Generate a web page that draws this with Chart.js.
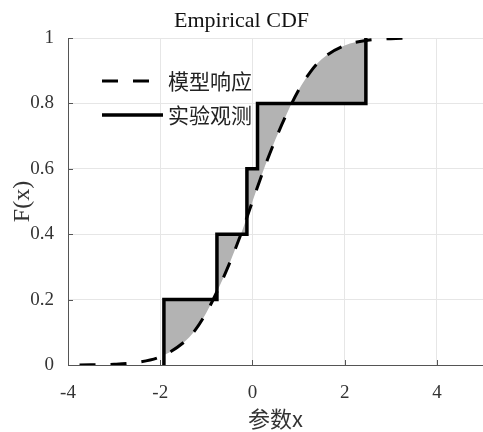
<!DOCTYPE html>
<html>
<head>
<meta charset="utf-8">
<script src="https://cdn.jsdelivr.net/npm/chart.js@4.4.1/dist/chart.umd.min.js"></script>
<style>
  html, body { margin: 0; padding: 0; background: #fff; }
  #wrap { width: 483px; height: 432px; }
</style>
</head>
<body>
<div id="wrap"><canvas id="cdf"></canvas></div>
<script>
// sorted experimental samples and their empirical CDF levels
const sampleX = [-1.92, -0.77, -0.12, 0.11, 2.46];
const ecdfY = [0.2, 0.4, 0.6, 0.8, 1.0];

// model CDF
const modelX = [-3.75, -3, -2.5, -2, -1.5, -1.25, -1, -0.75, -0.5, -0.25, 0, 0.25, 0.5, 0.75, 1, 1.25, 1.5, 2, 2.5, 3, 3.45];
const modelY = [0, 0.002, 0.008, 0.025, 0.068, 0.105, 0.16, 0.23, 0.31, 0.40, 0.50, 0.60, 0.69, 0.77, 0.84, 0.895, 0.935, 0.977, 0.993, 0.998, 1.0];

const xTicks = [-4, -2, 0, 2, 4];
const yTicks = [0, 0.2, 0.4, 0.6, 0.8, 1];
const seriesNames = ["模型响应", "实验观测"];

const SERIF = "'Liberation Serif', 'Times New Roman', serif";
const CJK = "'Noto Sans CJK SC', 'Noto Sans', sans-serif";

// MATLAB-style inward tick marks
const innerTicks = {
    id: "innerTicks",
    afterDatasetsDraw(chart) {
        const { ctx, chartArea: a, scales } = chart;
        ctx.save();
        ctx.strokeStyle = "#555";
        ctx.lineWidth = 1;
        ctx.beginPath();
        xTicks.forEach((v) => {
            const px = Math.round(scales.x.getPixelForValue(v)) + 0.5;
            ctx.moveTo(px, a.bottom);
            ctx.lineTo(px, a.bottom - 5);
        });
        yTicks.forEach((v) => {
            const py = Math.round(scales.y.getPixelForValue(v)) + 0.5;
            ctx.moveTo(a.left, py);
            ctx.lineTo(a.left + 5, py);
        });
        ctx.stroke();
        ctx.restore();
    },
};

// legend inside the axes, no box
const innerLegend = {
    id: "innerLegend",
    afterDraw(chart) {
        const { ctx } = chart;
        const rows = [81, 115];
        ctx.save();
        chart.data.datasets.forEach((ds, i) => {
            const y = rows[i];
            ctx.beginPath();
            ctx.setLineDash(ds.borderDash || []);
            ctx.lineWidth = ds.borderWidth;
            ctx.strokeStyle = ds.borderColor;
            ctx.moveTo(102, y);
            ctx.lineTo(163, y);
            ctx.stroke();
            ctx.setLineDash([]);
            ctx.fillStyle = "#222";
            ctx.font = "21px " + CJK;
            ctx.textBaseline = "middle";
            ctx.fillText(ds.label, 168, y);
        });
        ctx.restore();
    },
};

const modelPts = modelX.map((x, i) => ({ x, y: modelY[i] }));
const stepPts = [{ x: sampleX[0], y: 0 }].concat(sampleX.map((x, i) => ({ x, y: ecdfY[i] })));

new Chart(document.getElementById("cdf"), {
    type: "line",
    data: {
        datasets: [
            {
                label: seriesNames[0],
                data: modelPts,
                borderColor: "#000",
                borderWidth: 3,
                borderDash: [16, 15],
                cubicInterpolationMode: "monotone",
                pointRadius: 0,
                fill: false,
            },
            {
                label: seriesNames[1],
                data: stepPts,
                borderColor: "#000",
                borderWidth: 3.5,
                borderJoinStyle: "miter",
                stepped: true,
                pointRadius: 0,
                backgroundColor: "#b3b3b3",
                fill: { target: 0, above: "#b3b3b3", below: "#b3b3b3" },
            },
        ],
    },
    options: {
        responsive: true,
        maintainAspectRatio: false,
        animation: false,
        layout: { padding: 0 },
        plugins: {
            legend: { display: false },
            tooltip: { enabled: false },
            title: {
                display: true,
                text: "Empirical CDF",
                color: "#111",
                font: { family: SERIF, size: 22, weight: "normal", lineHeight: 1.2 },
                padding: { top: 8, bottom: 3.6 },
            },
        },
        scales: {
            x: {
                type: "linear",
                min: -4,
                max: 5,
                afterBuildTicks: (s) => { s.ticks = xTicks.map((v) => ({ value: v })); },
                afterFit: (s) => { s.height = 67; },
                grid: { color: "#e6e6e6", drawTicks: false },
                border: { color: "#555", width: 1 },
                ticks: {
                    padding: 17,
                    color: "#333",
                    maxRotation: 0,
                    autoSkip: false,
                    font: { family: SERIF, size: 19 },
                    callback: (v) => String(v),
                },
                title: {
                    display: true,
                    text: "参数x",
                    color: "#333",
                    font: { family: CJK, size: 22 },
                    padding: 0,
                },
            },
            y: {
                type: "linear",
                min: 0,
                max: 1,
                afterBuildTicks: (s) => { s.ticks = yTicks.map((v) => ({ value: v })); },
                afterFit: (s) => { s.width = 68; },
                grid: { color: "#e6e6e6", drawTicks: false },
                border: { color: "#555", width: 1 },
                ticks: {
                    padding: 14,
                    color: "#333",
                    font: { family: SERIF, size: 19 },
                    callback: (v) => String(v),
                },
                title: {
                    display: true,
                    text: "F(x)",
                    color: "#333",
                    font: { family: SERIF, size: 24 },
                    padding: { top: 8, bottom: 0 },
                },
            },
        },
    },
    plugins: [innerTicks, innerLegend],
});
</script>
</body>
</html>
